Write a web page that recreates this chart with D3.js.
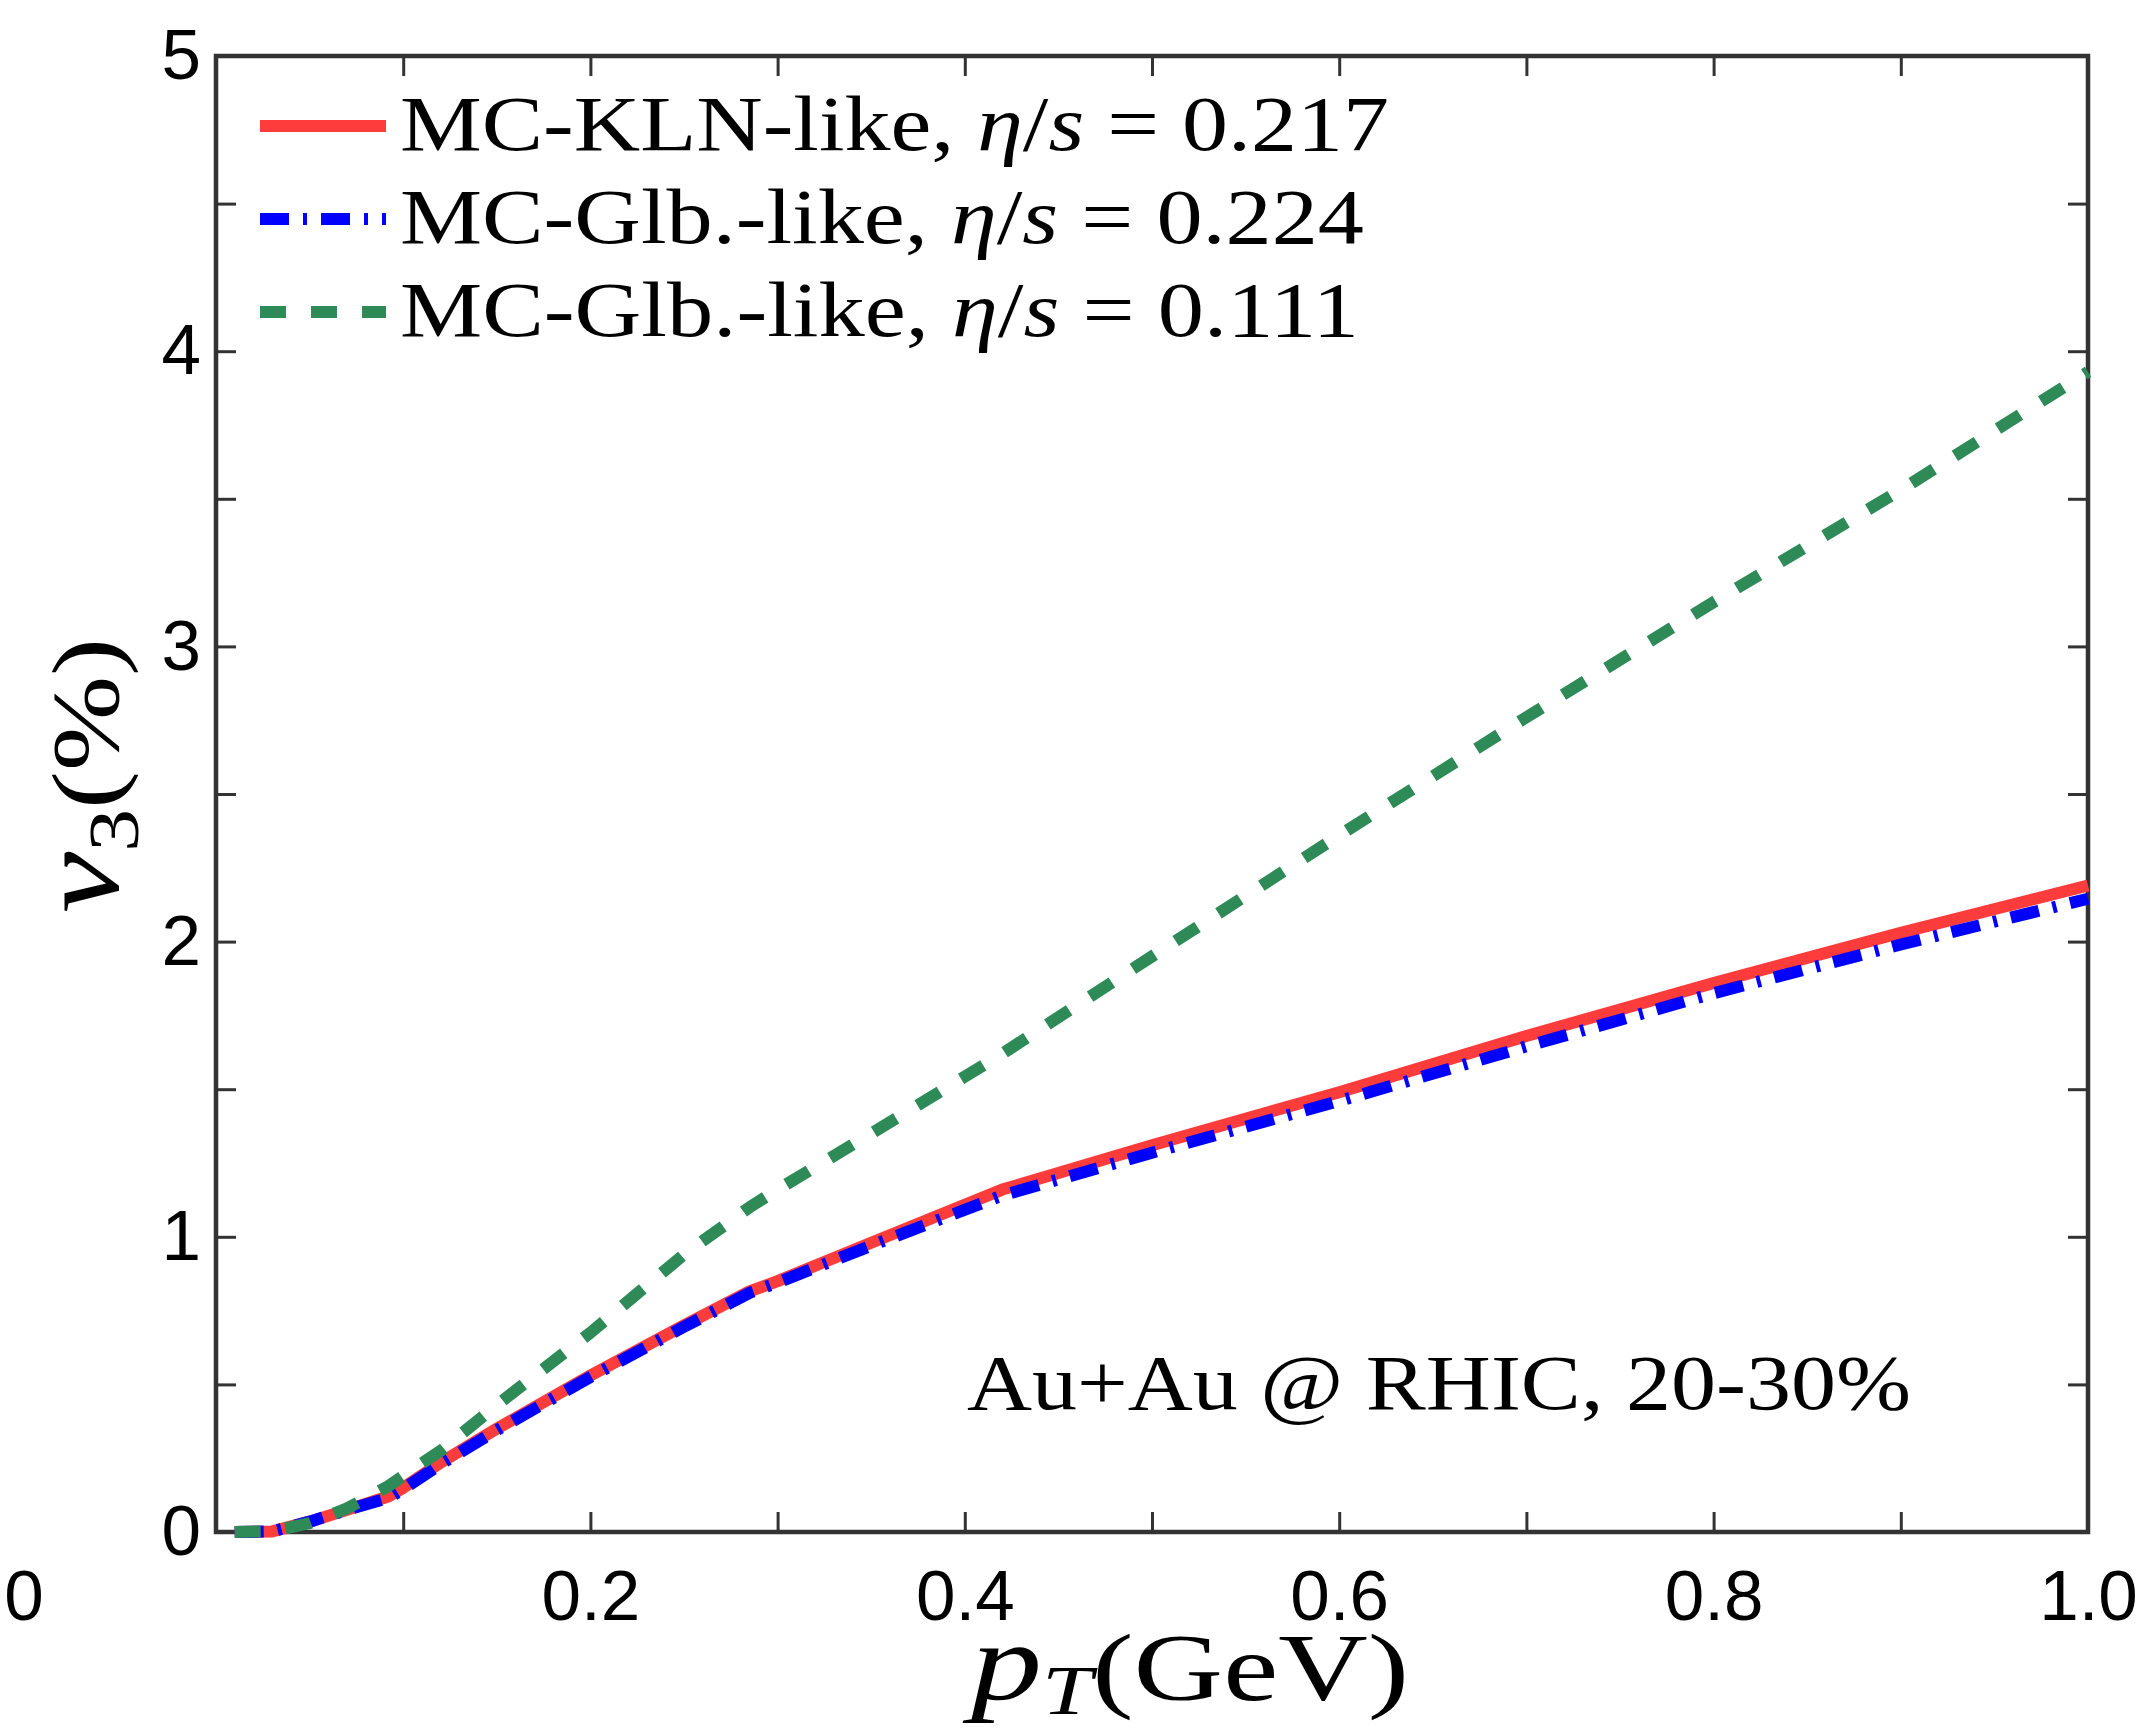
<!DOCTYPE html>
<html>
<head>
<meta charset="utf-8">
<script src="https://cdn.jsdelivr.net/npm/d3@7"></script>
<style>
body { margin: 0; background: #fff; }
</style>
</head>
<body>
<div id="chart"></div>
<script>
// data
var pT =       [0.01, 0.03, 0.05, 0.07, 0.092, 0.1, 0.12, 0.15, 0.2, 0.25, 0.285, 0.3, 0.35, 0.42, 0.5, 0.6, 0.7, 0.8, 0.9, 1.0];
var v3KLN217 = [0, 0.002, 0.035, 0.075, 0.12, 0.15, 0.235, 0.35, 0.53, 0.70, 0.815, 0.85, 0.98, 1.16, 1.31, 1.49, 1.68, 1.86, 2.03, 2.19];
var v3Glb224 = [0, 0.002, 0.035, 0.075, 0.115, 0.145, 0.23, 0.345, 0.525, 0.695, 0.81, 0.845, 0.97, 1.14, 1.285, 1.46, 1.645, 1.825, 1.99, 2.145];
var v3Glb111 = [0, 0.003, 0.03, 0.08, 0.155, 0.19, 0.275, 0.43, 0.675, 0.94, 1.10, 1.16, 1.35, 1.62, 1.95, 2.36, 2.76, 3.15, 3.53, 3.93];

var seriesNames = ["MC-KLN-like, ", "MC-Glb.-like, ", "MC-Glb.-like, "];
var etaOverS = ["0.217", "0.224", "0.111"];

var xTicks = [0, 0.1, 0.2, 0.3, 0.4, 0.5, 0.6, 0.7, 0.8, 0.9, 1.0];
var xLabelValues = [0.2, 0.4, 0.6, 0.8, 1.0];
var xLabelText = ["0.2", "0.4", "0.6", "0.8", "1.0"];
var yTicks = [0, 0.5, 1, 1.5, 2, 2.5, 3, 3.5, 4, 4.5, 5];
var yLabelValues = [0, 1, 2, 3, 4, 5];
var yLabelText = ["0", "1", "2", "3", "4", "5"];

// svg container
var svgWidth = 2145;
var svgHeight = 1735;
var margin = {top: 56, right: 57, bottom: 203, left: 216};
var width = svgWidth - margin.left - margin.right;
var height = svgHeight - margin.top - margin.bottom;

var svg = d3.select("#chart")
  .append("svg")
  .attr("width", svgWidth)
  .attr("height", svgHeight)
  .style("display", "block");

var chartGroup = svg.append("g")
  .attr("transform", `translate(${margin.left}, ${margin.top})`);

var xScale = d3.scaleLinear().domain([0, 1]).range([0, width]);
var yScale = d3.scaleLinear().domain([0, 5]).range([height, 0]);

function labelFor(values, texts) {
  return function(d) {
    var i = values.findIndex(v => Math.abs(v - d) < 1e-6);
    return i < 0 ? "" : texts[i];
  };
}

var tickLen = 20;
var sansFont = "'Liberation Sans', Arial, Helvetica, sans-serif";
var serifFont = "'Liberation Serif', 'Times New Roman', serif";

// bottom axis
var bottomAxis = d3.axisBottom(xScale)
  .tickValues(xTicks)
  .tickSizeInner(-tickLen)
  .tickSizeOuter(0)
  .tickPadding(38)
  .tickFormat(labelFor(xLabelValues, xLabelText));
var gx = chartGroup.append("g")
  .attr("transform", `translate(0, ${height})`)
  .call(bottomAxis);

// left axis
var leftAxis = d3.axisLeft(yScale)
  .tickValues(yTicks)
  .tickSizeInner(-tickLen)
  .tickSizeOuter(0)
  .tickPadding(15)
  .tickFormat(labelFor(yLabelValues, yLabelText));
var gy = chartGroup.append("g").call(leftAxis);

// mirrored ticks on top and right
var gt = chartGroup.append("g")
  .call(d3.axisTop(xScale).tickValues(xTicks).tickSizeInner(-tickLen).tickSizeOuter(0).tickFormat(""));
var gr = chartGroup.append("g")
  .attr("transform", `translate(${width}, 0)`)
  .call(d3.axisRight(yScale).tickValues(yTicks).tickSizeInner(-tickLen).tickSizeOuter(0).tickFormat(""));

[gx, gy, gt, gr].forEach(function(g) {
  g.select(".domain").remove();
  g.selectAll(".tick line").attr("stroke", "#333").attr("stroke-width", 3);
  g.selectAll("text")
    .attr("font-family", sansFont)
    .attr("font-size", 71)
    .attr("fill", "#000");
});

// the stray "0" at the far left of the x labels
chartGroup.append("text")
  .attr("x", xScale(0) - 192)
  .attr("y", height + 38)
  .attr("dy", "0.71em")
  .attr("text-anchor", "middle")
  .attr("font-family", sansFont)
  .attr("font-size", 71)
  .text("0");

// frame
chartGroup.append("rect")
  .attr("x", 0)
  .attr("y", 0)
  .attr("width", width)
  .attr("height", height)
  .attr("fill", "none")
  .attr("stroke", "#333")
  .attr("stroke-width", 4.5);

// curves
var series = [
  {vals: v3KLN217, color: "#ff3c3c", dash: null},
  {vals: v3Glb224, color: "#0000ff", dash: "29,14,4,14"},
  {vals: v3Glb111, color: "#2e8b57", dash: "26,25"}
];

var line = d3.line()
  .x(d => xScale(d[0]))
  .y(d => yScale(d[1]));

series.forEach(function(s) {
  chartGroup.append("path")
    .datum(pT.map((p, i) => [p, s.vals[i]]))
    .attr("d", line)
    .attr("fill", "none")
    .attr("stroke", s.color)
    .attr("stroke-width", 12)
    .attr("stroke-linejoin", "round")
    .attr("stroke-dasharray", s.dash);
});

// legend
var legendWidths = [989, 964, 959];
series.forEach(function(s, i) {
  var yc = 70 + i * 93;
  chartGroup.append("line")
    .attr("x1", 44).attr("x2", 170)
    .attr("y1", yc).attr("y2", yc)
    .attr("stroke", s.color)
    .attr("stroke-width", 12)
    .attr("stroke-dasharray", s.dash);
  var t = chartGroup.append("text")
    .attr("x", 184)
    .attr("y", yc + 24)
    .attr("font-family", serifFont)
    .attr("font-size", 79)
    .attr("textLength", legendWidths[i])
    .attr("lengthAdjust", "spacingAndGlyphs");
  t.append("tspan").text(seriesNames[i]);
  t.append("tspan").attr("font-style", "italic").text("η");
  t.append("tspan").text("/");
  t.append("tspan").attr("font-style", "italic").text("s");
  t.append("tspan").text(" = " + etaOverS[i]);
});

// annotation
chartGroup.append("text")
  .attr("x", 967 - margin.left)
  .attr("y", 1409 - margin.top)
  .attr("font-family", serifFont)
  .attr("font-size", 79)
  .attr("textLength", 944)
  .attr("lengthAdjust", "spacingAndGlyphs")
  .text("Au+Au @ RHIC, 20-30%");

// x axis title
var xt = svg.append("text")
  .attr("x", 971)
  .attr("y", 1700)
  .attr("font-family", serifFont)
  .attr("font-size", 96)
  .attr("textLength", 438)
  .attr("lengthAdjust", "spacingAndGlyphs");
xt.append("tspan").attr("font-style", "italic").attr("font-size", 110).text("p");
xt.append("tspan").attr("font-style", "italic").attr("font-size", 70).attr("dy", 14).text("T");
xt.append("tspan").attr("dy", -14).text("(GeV)");

// y axis title
var yt = svg.append("text")
  .attr("transform", "translate(118, 913) rotate(-90)")
  .attr("font-family", serifFont)
  .attr("font-size", 96)
  .attr("textLength", 275)
  .attr("lengthAdjust", "spacingAndGlyphs");
yt.append("tspan").attr("font-style", "italic").attr("font-size", 116).text("v");
yt.append("tspan").attr("font-size", 72).attr("dy", 20).text("3");
yt.append("tspan").attr("dy", -20).text("(%)");
</script>
</body>
</html>
